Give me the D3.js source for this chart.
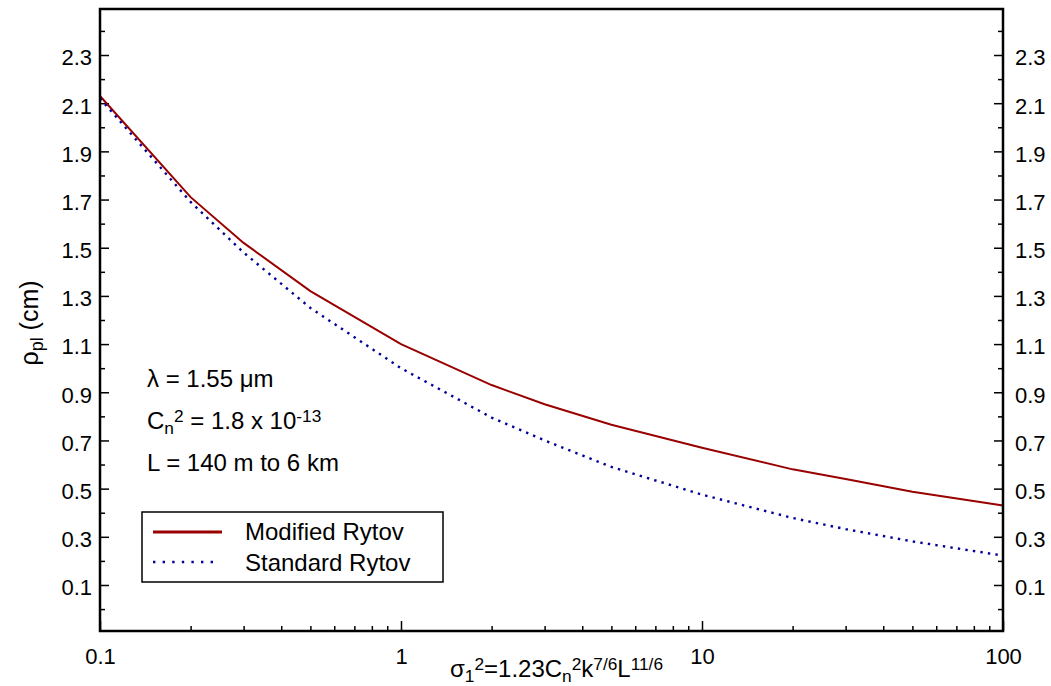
<!DOCTYPE html>
<html>
<head>
<meta charset="utf-8">
<script src="https://cdn.jsdelivr.net/npm/d3@7"></script>
<style>
  html, body { margin: 0; padding: 0; background: #fff; }
  svg { display: block; font-family: "Liberation Sans", Arial, sans-serif; }
</style>
</head>
<body>
<svg id="chart" width="1051" height="686"></svg>
<script>
// Rytov variance (x) and plane-wave coherence radius rho_pl in cm (y)
const sigmaSq = [0.1, 0.2, 0.3, 0.5, 1, 2, 3, 5, 10, 20, 30, 50, 100];
const modifiedRytov = [2.13, 1.71, 1.52, 1.32, 1.10, 0.93, 0.85, 0.765, 0.67, 0.58, 0.54, 0.487, 0.43];
const standardRytov = [2.12, 1.69, 1.48, 1.25, 1.00, 0.795, 0.70, 0.59, 0.475, 0.378, 0.332, 0.281, 0.222];

const xMajorTicks = [0.1, 1, 10, 100];
const yMajorTicks = [0.1, 0.3, 0.5, 0.7, 0.9, 1.1, 1.3, 1.5, 1.7, 1.9, 2.1, 2.3];
const yMinorTicks = [0.0, 0.2, 0.4, 0.6, 0.8, 1.0, 1.2, 1.4, 1.6, 1.8, 2.0, 2.2, 2.4];

const seriesNames = ["Modified Rytov", "Standard Rytov"];

const svg = d3.select("#chart");
const plotLeft = 100, plotRight = 1003, plotTop = 9, plotBottom = 631;

const x = d3.scaleLog().domain([0.1, 100]).range([plotLeft, plotRight]);
const y = d3.scaleLinear().domain([-0.091, 2.491]).range([plotBottom, plotTop]);

const xMinorTicks = [];
[0.1, 1, 10].forEach(d => { for (let k = 2; k <= 9; k++) xMinorTicks.push(+(d * k).toPrecision(3)); });

const tickFont = 22;
const textFont = 24;

// Bottom axis: major ticks + labels, minor ticks, all pointing inward
const gx = svg.append("g").attr("transform", `translate(0,${plotBottom})`)
  .call(d3.axisBottom(x).tickValues(xMajorTicks).tickSize(-10).tickPadding(17)
    .tickFormat(d => d3.format("~g")(d)));
gx.selectAll("text").attr("font-size", tickFont).attr("fill", "#000");
svg.append("g").attr("transform", `translate(0,${plotBottom})`)
  .call(d3.axisBottom(x).tickValues(xMinorTicks).tickSize(-5).tickFormat(""));

// Left and right axes
const fmt = d3.format(".1f");
const gyL = svg.append("g").attr("transform", `translate(${plotLeft},0)`)
  .call(d3.axisLeft(y).tickValues(yMajorTicks).tickSize(-9).tickPadding(8).tickFormat(fmt));
svg.append("g").attr("transform", `translate(${plotLeft},0)`)
  .call(d3.axisLeft(y).tickValues(yMinorTicks).tickSize(-5).tickFormat(""));
const gyR = svg.append("g").attr("transform", `translate(${plotRight},0)`)
  .call(d3.axisRight(y).tickValues(yMajorTicks).tickSize(-9).tickPadding(12).tickFormat(fmt));
svg.append("g").attr("transform", `translate(${plotRight},0)`)
  .call(d3.axisRight(y).tickValues(yMinorTicks).tickSize(-5).tickFormat(""));
[gyL, gyR].forEach(g => g.selectAll("text").attr("font-size", tickFont).attr("fill", "#000").attr("dy", "0.45em"));

svg.selectAll(".domain").remove();
svg.selectAll(".tick line").attr("stroke", "#000").attr("stroke-width", 1.5);

// Data curves
const line = d3.line().x(d => x(d[0])).y(d => y(d[1]));
svg.append("path")
  .datum(sigmaSq.map((s, i) => [s, modifiedRytov[i]]))
  .attr("d", line).attr("fill", "none")
  .attr("stroke", "#990000").attr("stroke-width", 2);
svg.append("path")
  .datum(sigmaSq.map((s, i) => [s, standardRytov[i]]))
  .attr("d", line).attr("fill", "none")
  .attr("stroke", "#000099").attr("stroke-width", 2.4)
  .attr("stroke-dasharray", "2.4 5.2");

// Plot frame
svg.append("rect")
  .attr("x", plotLeft).attr("y", plotTop)
  .attr("width", plotRight - plotLeft).attr("height", plotBottom - plotTop)
  .attr("fill", "none").attr("stroke", "#000").attr("stroke-width", 2.5);

// Text helper for runs with sub/superscripts
function richText(sel, parts) {
  parts.forEach(p => {
    const t = sel.append("tspan").text(p.t);
    if (p.sub) t.attr("baseline-shift", "-30%").attr("font-size", "72%");
    if (p.sup) t.attr("baseline-shift", "40%").attr("font-size", "72%");
  });
}

// Annotations
richText(svg.append("text").attr("x", 147).attr("y", 387).attr("font-size", textFont),
  [{t: "λ = 1.55 μm"}]);
richText(svg.append("text").attr("x", 147).attr("y", 429).attr("font-size", textFont),
  [{t: "C"}, {t: "n", sub: true}, {t: "2", sup: true}, {t: " = 1.8 x 10"}, {t: "-13", sup: true}]);
richText(svg.append("text").attr("x", 147).attr("y", 471).attr("font-size", textFont),
  [{t: "L = 140 m to 6 km"}]);

// Axis titles
richText(svg.append("text").attr("x", 450).attr("y", 677).attr("font-size", textFont),
  [{t: "σ"}, {t: "1", sub: true}, {t: "2", sup: true}, {t: "=1.23C"}, {t: "n", sub: true},
   {t: "2", sup: true}, {t: "k"}, {t: "7/6", sup: true}, {t: "L"}, {t: "11/6", sup: true}]);
richText(svg.append("text").attr("transform", "translate(38,323) rotate(-90)")
  .attr("text-anchor", "middle").attr("font-size", 25),
  [{t: "ρ"}, {t: "pl", sub: true}, {t: " (cm)"}]);

// Legend
const lg = svg.append("g");
lg.append("rect").attr("x", 142).attr("y", 512).attr("width", 301).attr("height", 70)
  .attr("fill", "#fff").attr("stroke", "#000").attr("stroke-width", 1.5);
lg.append("line").attr("x1", 153).attr("x2", 222).attr("y1", 532).attr("y2", 532)
  .attr("stroke", "#990000").attr("stroke-width", 3);
lg.append("line").attr("x1", 153).attr("x2", 220).attr("y1", 562).attr("y2", 562)
  .attr("stroke", "#000099").attr("stroke-width", 2.4).attr("stroke-dasharray", "2.4 7.2");
lg.selectAll("text.lbl").data(seriesNames).join("text")
  .attr("x", 245).attr("y", (d, i) => 540 + i * 31)
  .attr("font-size", textFont).text(d => d);
</script>
</body>
</html>
